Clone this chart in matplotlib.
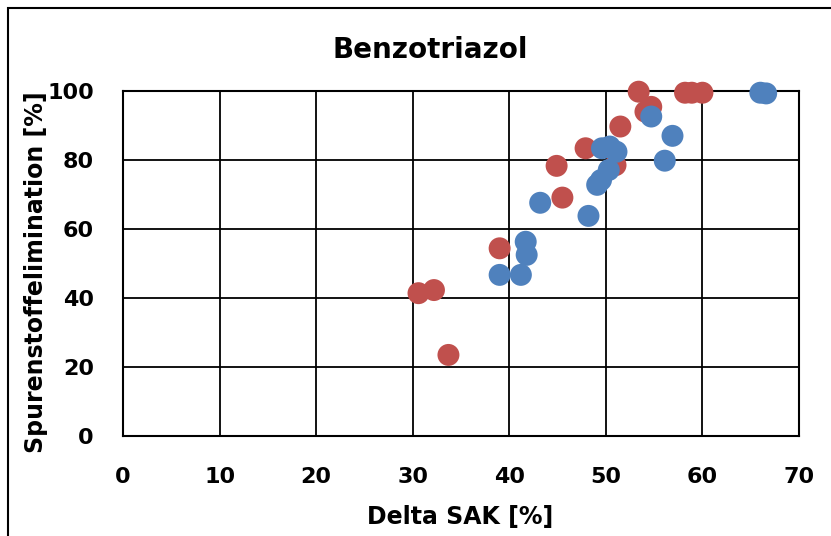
import matplotlib
matplotlib.use("Agg")
import matplotlib.pyplot as plt
from matplotlib.patches import Rectangle

title = "Benzotriazol"
x_label = "Delta SAK [%]"
y_label = "Spurenstoffelimination [%]"

red_x = [30.6, 32.2, 33.7, 39.0, 45.5, 44.9, 47.9, 51.0, 51.5, 53.4, 54.1, 54.7, 58.2, 58.9, 60.0]
red_y = [41.4, 42.3, 23.5, 54.4, 69.1, 78.3, 83.4, 78.5, 89.7, 99.8, 94.0, 95.4, 99.5, 99.5, 99.5]

blue_x = [39.0, 41.2, 41.8, 41.7, 43.2, 48.2, 49.1, 49.5, 50.3, 49.6, 51.1, 50.4, 56.1, 56.9, 54.7, 66.0, 66.6]
blue_y = [46.7, 46.7, 52.5, 56.3, 67.6, 63.8, 72.8, 74.2, 77.1, 83.4, 82.4, 83.9, 79.8, 87.0, 92.6, 99.5, 99.3]

x_ticks = [0, 10, 20, 30, 40, 50, 60, 70]
y_ticks = [0, 20, 40, 60, 80, 100]

RED = "#C0504D"
BLUE = "#4F81BD"

plt.rcParams['font.family'] = ['DejaVu Sans']

fig = plt.figure(figsize=(8.31, 5.36), dpi=100)
fig.patch.set_facecolor("white")
fig.patches.append(Rectangle((8/831, -0.1), 1.2, 1 - 8/536 + 0.1, transform=fig.transFigure,
                             fill=False, edgecolor="black", linewidth=1.5, zorder=0))

ax = fig.add_axes([123/831, 1 - 436/536, (799 - 123)/831, (436 - 91)/536])
ax.set_xlim(0, 70)
ax.set_ylim(0, 100)
ax.set_xticks(x_ticks)
ax.set_yticks(y_ticks)
ax.grid(True, color="black", linewidth=1.3)
ax.set_axisbelow(True)
for s in ax.spines.values():
    s.set_color("black")
    s.set_linewidth(1.5)
ax.tick_params(length=0, labelsize=16)
ax.tick_params(axis="x", pad=22)
ax.tick_params(axis="y", pad=21)
for lab in ax.get_xticklabels() + ax.get_yticklabels():
    lab.set_fontweight("bold")

ax.scatter(red_x, red_y, s=250, color=RED, edgecolors="none", zorder=3, clip_on=False)
ax.scatter(blue_x, blue_y, s=250, color=BLUE, edgecolors="none", zorder=4, clip_on=False)

fig.text(430/831, 1 - 50/536, title, ha="center", va="center", fontsize=20, fontweight="bold")
fig.text(460/831, 1 - 517/536, x_label, ha="center", va="center", fontsize=17, fontweight="bold")
fig.text(36/831, 1 - 272/536, y_label, ha="center", va="center", rotation=90, fontsize=17, fontweight="bold")

fig.savefig("out.png", dpi=100)
